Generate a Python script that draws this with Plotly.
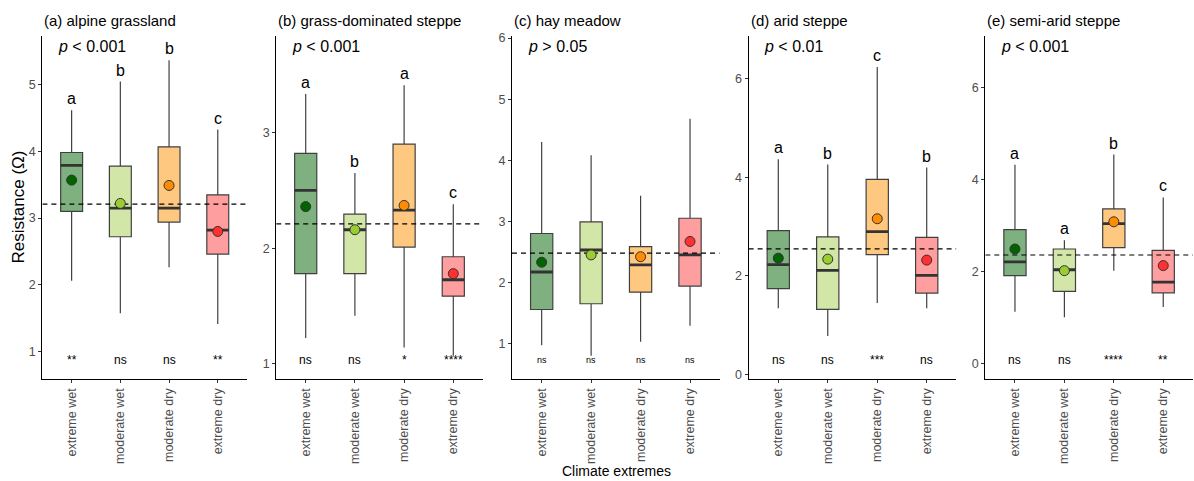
import plotly.graph_objects as go

categories = ["extreme wet", "moderate wet", "moderate dry", "extreme dry"]

titles = ["(a) alpine grassland", "(b) grass-dominated steppe", "(c) hay meadow",
          "(d) arid steppe", "(e) semi-arid steppe"]
p_texts = ["<i>p</i> &lt; 0.001", "<i>p</i> &lt; 0.001", "<i>p</i> &gt; 0.05",
           "<i>p</i> &lt; 0.01", "<i>p</i> &lt; 0.001"]

# per panel box statistics
a_q1 = [3.10, 2.72, 2.94, 2.46]
a_med = [3.79, 3.15, 3.15, 2.82]
a_q3 = [3.985, 3.78, 4.07, 3.35]
a_lo = [2.06, 1.57, 2.26, 1.41]
a_hi = [4.62, 5.05, 5.37, 4.33]
a_mean = [3.57, 3.22, 3.49, 2.80]
a_ref = 3.21
a_letters = ["a", "b", "b", "c"]
a_sig = ["**", "ns", "ns", "**"]

b_q1 = [1.78, 1.78, 2.01, 1.585]
b_med = [2.50, 2.16, 2.33, 1.727]
b_q3 = [2.82, 2.295, 2.90, 1.926]
b_lo = [1.224, 1.415, 1.14, 1.07]
b_hi = [3.335, 2.65, 3.41, 2.38]
b_mean = [2.36, 2.16, 2.37, 1.78]
b_ref = 2.21
b_letters = ["a", "b", "a", "c"]
b_sig = ["ns", "ns", "*", "****"]

c_q1 = [1.556, 1.65, 1.84, 1.94]
c_med = [2.17, 2.53, 2.285, 2.45]
c_q3 = [2.80, 2.99, 2.585, 3.05]
c_lo = [0.97, 0.80, 1.03, 1.29]
c_hi = [4.30, 4.08, 3.42, 4.68]
c_mean = [2.33, 2.45, 2.42, 2.67]
c_ref = 2.48
c_letters = ["", "", "", ""]
c_sig = ["ns", "ns", "ns", "ns"]

d_q1 = [1.74, 1.32, 2.43, 1.65]
d_med = [2.23, 2.11, 2.90, 2.01]
d_q3 = [2.92, 2.79, 3.96, 2.78]
d_lo = [1.34, 0.78, 1.45, 1.34]
d_hi = [4.37, 4.26, 6.24, 4.20]
d_mean = [2.36, 2.34, 3.16, 2.32]
d_ref = 2.55
d_letters = ["a", "b", "c", "b"]
d_sig = ["ns", "ns", "***", "ns"]

e_q1 = [1.914, 1.57, 2.52, 1.54]
e_med = [2.21, 2.04, 3.04, 1.77]
e_q3 = [2.91, 2.49, 3.36, 2.46]
e_lo = [1.13, 1.01, 2.02, 1.23]
e_hi = [4.32, 2.68, 4.54, 3.61]
e_mean = [2.49, 2.02, 3.08, 2.13]
e_ref = 2.36
e_letters = ["a", "a", "b", "c"]
e_sig = ["ns", "ns", "****", "**"]

panels = [
    (a_q1, a_med, a_q3, a_lo, a_hi, a_mean, a_ref, a_letters, a_sig),
    (b_q1, b_med, b_q3, b_lo, b_hi, b_mean, b_ref, b_letters, b_sig),
    (c_q1, c_med, c_q3, c_lo, c_hi, c_mean, c_ref, c_letters, c_sig),
    (d_q1, d_med, d_q3, d_lo, d_hi, d_mean, d_ref, d_letters, d_sig),
    (e_q1, e_med, e_q3, e_lo, e_hi, e_mean, e_ref, e_letters, e_sig),
]

y_ranges = [[0.58, 5.74], [0.866, 3.84], [0.414, 6.04], [-0.1, 6.88], [-0.336, 7.12]]
y_ticks = [[1, 2, 3, 4, 5], [1, 2, 3], [1, 2, 3, 4, 5, 6], [0, 2, 4, 6], [0, 2, 4, 6]]
x_domains_px = [(42.4, 247.0), (276.2, 482.8), (512.0, 719.7), (748.6, 956.4), (985.3, 1192.9)]
sig_sizes = [12, 12, 9, 12, 12]

fill_colors = ["#7FB07F", "#D2E6A8", "#FFC880", "#FF9E9E"]
mean_colors = ["#006400", "#9ACD32", "#FF8C00", "#FF3030"]

W, H = 1194, 481
plot_top, plot_bottom = 32, 380
FONT = "Liberation Sans, Arial, sans-serif"
box_w = 0.45
x_range = [-0.6, 3.6]

fig = go.Figure()
layout = dict(
    width=W, height=H, autosize=False,
    margin=dict(l=0, r=0, t=0, b=0),
    paper_bgcolor="white", plot_bgcolor="white",
    showlegend=False, boxmode="overlay",
    font=dict(family=FONT, color="black"),
)
annotations = []

for k, (q1, med, q3, lo, hi, mean, ref, letters, sig) in enumerate(panels):
    idx = "" if k == 0 else str(k + 1)
    xa, ya = "x" + idx, "y" + idx
    xs = list(range(len(categories)))
    for i in xs:
        fig.add_trace(go.Box(
            x=[i], q1=[q1[i]], median=[med[i]], q3=[q3[i]],
            lowerfence=[lo[i]], upperfence=[hi[i]],
            width=box_w, whiskerwidth=0,
            fillcolor=fill_colors[i],
            line=dict(color="#404040", width=1.2),
            boxpoints=False, hoverinfo="skip",
            xaxis=xa, yaxis=ya,
        ))
        fig.add_trace(go.Scatter(
            x=[i - box_w / 2, i + box_w / 2], y=[med[i], med[i]],
            mode="lines", line=dict(color="#333333", width=2.8),
            hoverinfo="skip", xaxis=xa, yaxis=ya,
        ))
    fig.add_trace(go.Scatter(
        x=x_range, y=[ref, ref], mode="lines",
        line=dict(color="black", width=1.2, dash="5px,4px"),
        hoverinfo="skip", xaxis=xa, yaxis=ya,
    ))
    fig.add_trace(go.Scatter(
        x=xs, y=mean, mode="markers",
        marker=dict(size=10, color=mean_colors, line=dict(color="#333333", width=1)),
        hoverinfo="skip", xaxis=xa, yaxis=ya,
    ))

    x0, x1 = x_domains_px[k]
    layout["xaxis" + idx] = dict(
        domain=[x0 / W, x1 / W], range=x_range, anchor=ya,
        tickvals=xs, ticktext=categories, tickangle=-90,
        ticks="outside", ticklen=3, tickcolor="#333333",
        tickfont=dict(size=12.5, color="#4D4D4D", family=FONT),
        showline=True, linecolor="black", linewidth=1.2,
        showgrid=False, zeroline=False, fixedrange=True,
    )
    layout["yaxis" + idx] = dict(
        domain=[1 - plot_bottom / H, 1 - plot_top / H], range=y_ranges[k], anchor=xa,
        tickvals=y_ticks[k], ticks="outside", ticklen=3, tickcolor="#333333",
        tickfont=dict(size=12.5, color="#4D4D4D", family=FONT),
        showline=True, linecolor="black", linewidth=1.2,
        showgrid=False, zeroline=False, fixedrange=True,
    )

    # panel title
    annotations.append(dict(
        text=titles[k], xref="paper", yref="paper", x=x0 / W, y=1 - 17 / H,
        xanchor="left", yanchor="middle", showarrow=False,
        font=dict(size=15, color="black", family=FONT),
    ))
    # p value
    annotations.append(dict(
        text=p_texts[k], xref=xa + " domain", yref=ya + " domain",
        x=0.065, y=(plot_bottom - 43) / (plot_bottom - plot_top),
        xanchor="left", yanchor="middle", showarrow=False,
        font=dict(size=16, color="black", family=FONT),
    ))
    for i in xs:
        if letters[i]:
            annotations.append(dict(
                text=letters[i], xref=xa, yref=ya, x=i, y=hi[i],
                xanchor="center", yanchor="bottom", yshift=1, showarrow=False,
                font=dict(size=16, color="black", family=FONT),
            ))
        annotations.append(dict(
            text=sig[i], xref=xa, yref=ya + " domain", x=i,
            y=(plot_bottom - 361) / (plot_bottom - plot_top),
            xanchor="center", yanchor="middle", showarrow=False,
            font=dict(size=sig_sizes[k], color="black", family=FONT),
        ))

annotations.append(dict(
    text="Resistance (Ω)", xref="paper", yref="paper",
    x=18 / W, y=1 - ((plot_top + plot_bottom) / 2) / H,
    xanchor="center", yanchor="middle", textangle=-90, showarrow=False,
    font=dict(size=17, color="black", family=FONT),
))
annotations.append(dict(
    text="Climate extremes", xref="paper", yref="paper",
    x=616 / W, y=1 - 473 / H, xanchor="center", yanchor="middle", showarrow=False,
    font=dict(size=14, color="black", family=FONT),
))
layout["annotations"] = annotations
fig.update_layout(**layout)
fig.write_html("out.html", config=dict(displayModeBar=False))
